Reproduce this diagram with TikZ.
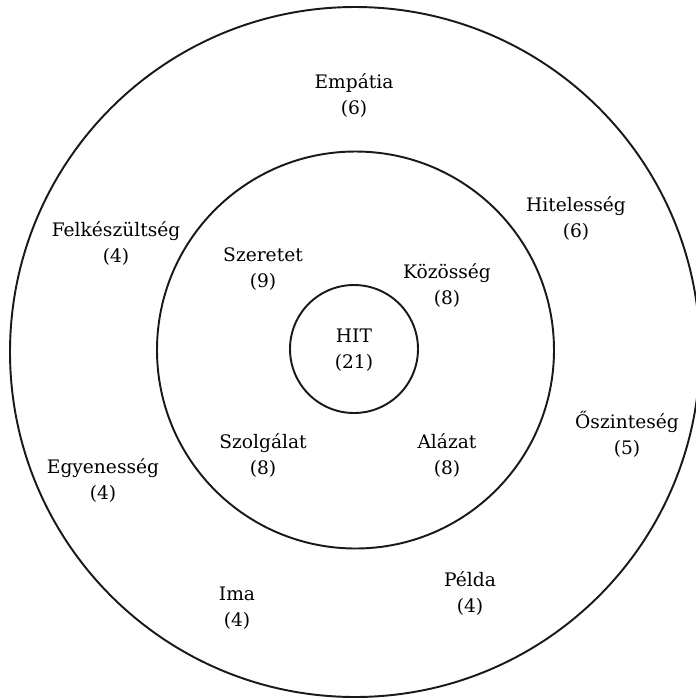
\documentclass[tikz,border=0pt]{standalone}
\usepackage{fontspec}
\setmainfont{DejaVu Serif}
\usetikzlibrary{positioning}

\begin{document}
\begin{tikzpicture}[x=0.02cm, y=-0.02cm, thick]
	\tikzset{
		ring/.style={draw=black!90, line width=1.1pt},
		value/.style={align=center, font=\fontsize{10.6}{14.8}\selectfont, text=black}
	}
	\useasboundingbox (0,0) rectangle (696,698);
	\clip (0,0) rectangle (696,698);
	% Circles
	\draw[ring] (355,352) circle (345);
	\draw[ring] (355.5,350) circle (198.5);
	\draw[ring] (354,349) circle (64);
	% inner
	\node[value] (hit) at (354,350) {HIT\\(21)};
	% middle ring
	\node[value] (szeretet) at (263,269) {Szeretet\\(9)};
	\node[value] (kozosseg) at (447,285) {Közösség\\(8)};
	\node[value] (szolgalat) at (263,455) {Szolgálat\\(8)};
	\node[value] (alazat) at (447,455) {Alázat\\(8)};
	% outer ring
	\node[value] (empatia) at (354,95) {Empátia\\(6)};
	\node[value] (hiteles) at (576,218) {Hitelesség\\(6)};
	\node[value] (felkeszult) at (116,243) {Felkészültség\\(4)};
	\node[value] (oszinte) at (627,434) {Őszinteség\\(5)};
	\node[value] (egyenes) at (103,480) {Egyenesség\\(4)};
	\node[value] (pelda) at (470,593) {Példa\\(4)};
	\node[value] (ima) at (237,608) {Ima\\(4)};
\end{tikzpicture}
\end{document}
